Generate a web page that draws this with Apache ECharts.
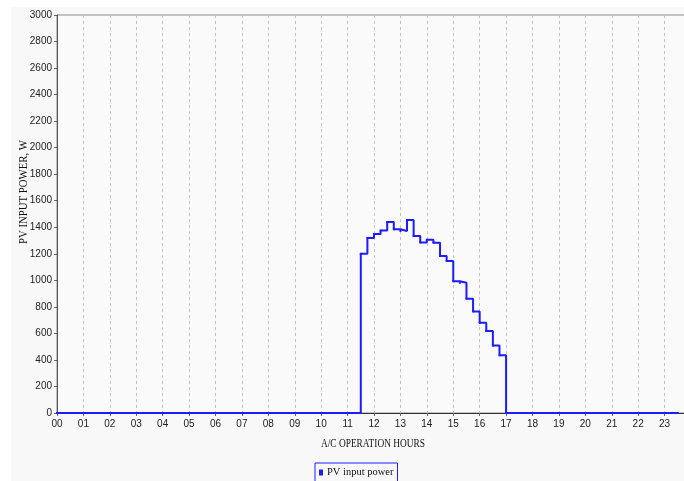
<!DOCTYPE html>
<html>
<head>
<meta charset="utf-8">
<title>PV input power</title>
<script src="https://cdn.jsdelivr.net/npm/echarts@6/dist/echarts.min.js"></script>
<style>
  html, body { margin: 0; padding: 0; background: #ffffff; }
  #chart { width: 684px; height: 481px; }
</style>
</head>
<body>
<div id="chart"></div>
<script>
// PV input power sampled every 15 minutes, starting at 00:00 (W)
const STEP_HOURS = 0.25;
const powerW = [
  0, 0, 0, 0, 0, 0, 0, 0, 0, 0, 0, 0, 0, 0, 0, 0,      // 00:00 - 03:45
  0, 0, 0, 0, 0, 0, 0, 0, 0, 0, 0, 0, 0, 0, 0, 0,      // 04:00 - 07:45
  0, 0, 0, 0, 0, 0, 0, 0, 0, 0, 0, 0, 0, 0,            // 08:00 - 11:15
  1200, 1320, 1350, 1375, 1440, 1385, 1372, 1455,      // 11:30 - 13:15
  1335, 1286, 1306, 1284, 1183, 1146, 993, 982,        // 13:30 - 15:15
  862, 766, 681, 618, 508, 435,                        // 15:30 - 16:45
  0, 0, 0, 0, 0, 0, 0, 0, 0, 0, 0, 0, 0, 0,            // 17:00 - 20:15
  0, 0, 0, 0, 0, 0, 0, 0, 0, 0, 0, 0, 0                // 20:30 - 23:30
];
const hourLabels = ['00','01','02','03','04','05','06','07','08','09','10','11',
                    '12','13','14','15','16','17','18','19','20','21','22','23'];
const seriesName = 'PV input power';
const xTitle = 'A/C OPERATION HOURS';
const yTitle = 'PV INPUT POWER, W';

const points = powerW.map((w, i) => [i * STEP_HOURS, w]);

const chart = echarts.init(document.getElementById('chart'));
const labelFont = "'Liberation Sans Narrow', 'Liberation Sans', Arial, sans-serif";
const titleFont = "'Liberation Serif', 'Times New Roman', serif";

chart.setOption({
  animation: false,
  backgroundColor: '#ffffff',
  graphic: [
    {
      // panel behind the whole chart
      type: 'rect',
      z: -10,
      shape: { x: 11, y: 7, width: 673, height: 474 },
      style: { fill: '#f8f8f8' }
    },
    {
      // horizontal axis title, narrow serif
      type: 'text',
      x: 373, y: 444,
      scaleX: 0.72,
      style: {
        text: xTitle, fontFamily: titleFont, fontSize: 13, fill: '#111',
        align: 'center', verticalAlign: 'middle'
      }
    },
    {
      // vertical axis title, reading bottom to top
      type: 'text',
      x: 24, y: 192,
      rotation: Math.PI / 2,
      scaleX: 0.86,
      style: {
        text: yTitle, fontFamily: titleFont, fontSize: 12.5, fill: '#111',
        align: 'center', verticalAlign: 'middle'
      }
    }
  ],
  grid: {
    left: 57, top: 15, right: -7, bottom: 68,
    outerBoundsMode: 'none',
    containLabel: false,
    show: true,
    backgroundColor: '#fafafa',
    borderColor: '#8c8c8c',
    borderWidth: 1
  },
  legend: {
    left: 315, top: 463,
    itemWidth: 4, itemHeight: 6,
    itemGap: 4,
    padding: [4, 4, 4, 4],
    borderColor: '#1c1cff',
    borderWidth: 1,
    icon: 'rect',
    textStyle: { fontFamily: titleFont, fontSize: 10.5, color: '#111', padding: [0, 0, 0, -1] },
    data: [seriesName]
  },
  xAxis: {
    type: 'value',
    min: 0, max: 24, interval: 1,
    axisLine: { lineStyle: { color: '#333', width: 1 } },
    axisTick: { show: true, length: 3, lineStyle: { color: '#666' } },
    axisLabel: {
      fontFamily: labelFont, fontSize: 10, color: '#222', margin: 6,
      formatter: v => (v < hourLabels.length ? hourLabels[v] : '')
    },
    splitLine: { show: true, lineStyle: { color: '#c4c4c4', type: [3, 3], width: 1 } }
  },
  yAxis: {
    type: 'value',
    min: 0, max: 3000, interval: 200,
    axisLine: { show: true, lineStyle: { color: '#555', width: 1 } },
    axisTick: { show: true, length: 3, lineStyle: { color: '#666' } },
    axisLabel: {
      fontFamily: labelFont, fontSize: 10, color: '#222', margin: 5,
      formatter: v => String(v)
    },
    splitLine: { show: false }
  },
  series: [{
    name: seriesName,
    type: 'line',
    step: 'end',
    data: points,
    showSymbol: true,
    symbol: 'rect',
    symbolSize: 2,
    itemStyle: { color: '#1c1cff' },
    lineStyle: { color: '#1c1cff', width: 2 }
  }]
});
</script>
</body>
</html>
